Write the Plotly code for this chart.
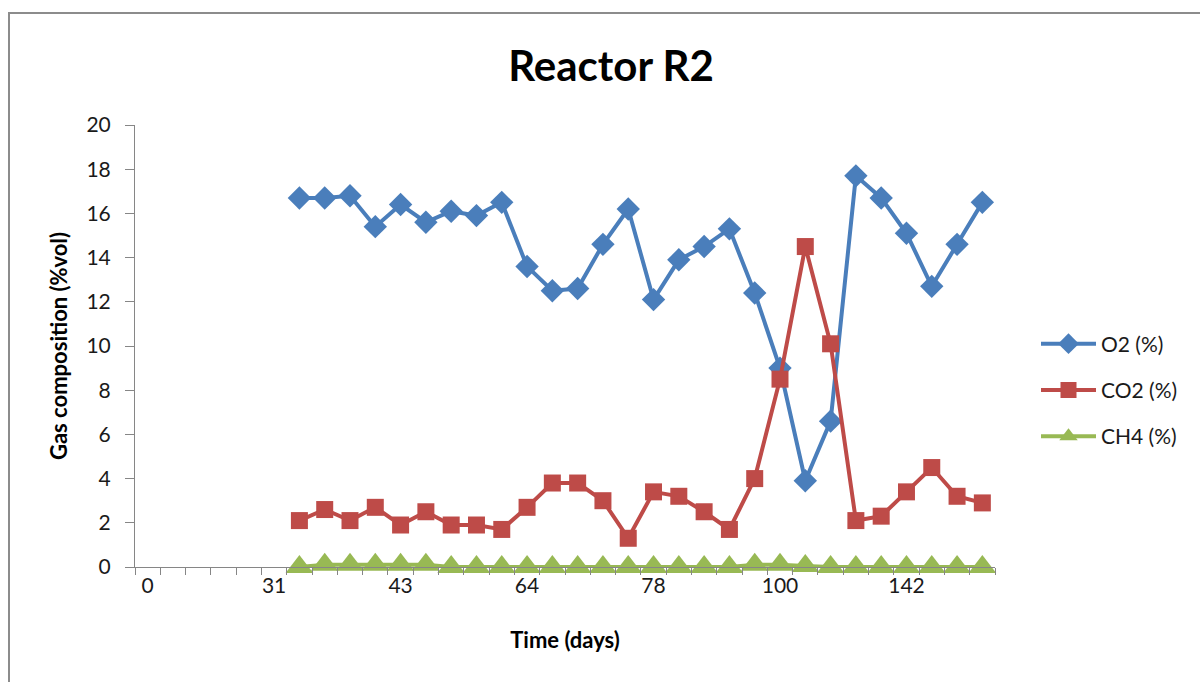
import plotly.graph_objects as go

# Category positions (34 categories, labelled every 5th)
n_categories = 34
tick_positions = [0, 5, 10, 15, 20, 25, 30]
tick_labels = ["0", "31", "43", "64", "78", "100", "142"]

# Data start at category index 6
first_index = 6
o2 = [16.7, 16.7, 16.8, 15.4, 16.4, 15.6, 16.1, 15.9, 16.5, 13.6, 12.5, 12.6, 14.6, 16.2,
      12.1, 13.9, 14.5, 15.3, 12.4, 9.0, 3.9, 6.6, 17.7, 16.7, 15.1, 12.7, 14.6, 16.5]
co2 = [2.1, 2.6, 2.1, 2.7, 1.9, 2.5, 1.9, 1.9, 1.7, 2.7, 3.8, 3.8, 3.0, 1.3,
       3.4, 3.2, 2.5, 1.7, 4.0, 8.5, 14.5, 10.1, 2.1, 2.3, 3.4, 4.5, 3.2, 2.9]
ch4 = [0.0, 0.1, 0.1, 0.1, 0.1, 0.1, 0.0, 0.0, 0.0, 0.0, 0.0, 0.0, 0.0, 0.0,
       0.0, 0.0, 0.0, 0.0, 0.1, 0.1, 0.05, 0.0, 0.0, 0.0, 0.0, 0.0, 0.0, 0.0]

x = list(range(first_index, first_index + len(o2)))

font_family = "Lato, Open Sans, sans-serif"

fig = go.Figure()
fig.add_trace(go.Scatter(x=x, y=o2, name="O2 (%)", mode="lines+markers", legendgroup="a",
                         line=dict(color="#4A7EBB", width=4),
                         marker=dict(symbol="diamond", size=18, color="#4A7EBB")))
fig.add_trace(go.Scatter(x=x, y=co2, name="CO2 (%)", mode="lines+markers", legendgroup="b",
                         line=dict(color="#BE4B48", width=4),
                         marker=dict(symbol="square", size=17, color="#BE4B48")))
fig.add_trace(go.Scatter(x=x, y=ch4, name="CH4 (%)", mode="lines+markers", legendgroup="c",
                         cliponaxis=False,
                         line=dict(color="#98B954", width=4),
                         marker=dict(symbol="triangle-up", size=24, color="#98B954")))

fig.update_layout(
    width=1200, height=682,
    margin=dict(l=135, r=205, t=125, b=115),
    paper_bgcolor="white", plot_bgcolor="white",
    font=dict(family=font_family, size=21, color="#1a1a1a"),
    title=dict(text="<b>Reactor R2</b>", x=611 / 1200, xanchor="center",
               y=1 - 66 / 682, yanchor="middle",
               font=dict(size=42, family=font_family, color="black")),
    showlegend=True,
    legend=dict(x=(1036 - 135) / 860, xanchor="left", y=(567 - 390) / 442, yanchor="middle",
                font=dict(size=21), itemwidth=55, tracegroupgap=16,
                bgcolor="rgba(0,0,0,0)"),
    xaxis=dict(range=[-0.5, n_categories - 0.5], tickmode="array",
               tickvals=tick_positions, ticktext=tick_labels, ticks="",
               showgrid=False, zeroline=False, showline=True, linecolor="#868686",
               linewidth=1, tickfont=dict(size=21),
               minor=dict(tick0=-0.5, dtick=1, ticks="outside", ticklen=7,
                          tickcolor="#868686", showgrid=False),
               title=dict(text="<b>Time (days)</b>", font=dict(size=22, color="black"),
                          standoff=36)),
    yaxis=dict(range=[0, 20], tickmode="linear", tick0=0, dtick=2,
               ticks="outside", ticklen=9, tickcolor="#868686", ticklabelstandoff=10,
               showgrid=False, zeroline=False, showline=True, linecolor="#868686",
               linewidth=1, tickfont=dict(size=21),
               title=dict(text="<b>Gas composition (%vol)</b>",
                          font=dict(size=22, color="black"), standoff=12)),
)

# outer chart frame
fig.add_shape(type="rect", xref="paper", yref="paper",
              x0=(9 - 135) / 860, x1=(1215 - 135) / 860,
              y0=(567 - 700) / 442, y1=(567 - 13) / 442,
              line=dict(color="#8C8C8C", width=2), fillcolor="rgba(0,0,0,0)",
              layer="below")

fig.write_html("out.html")
